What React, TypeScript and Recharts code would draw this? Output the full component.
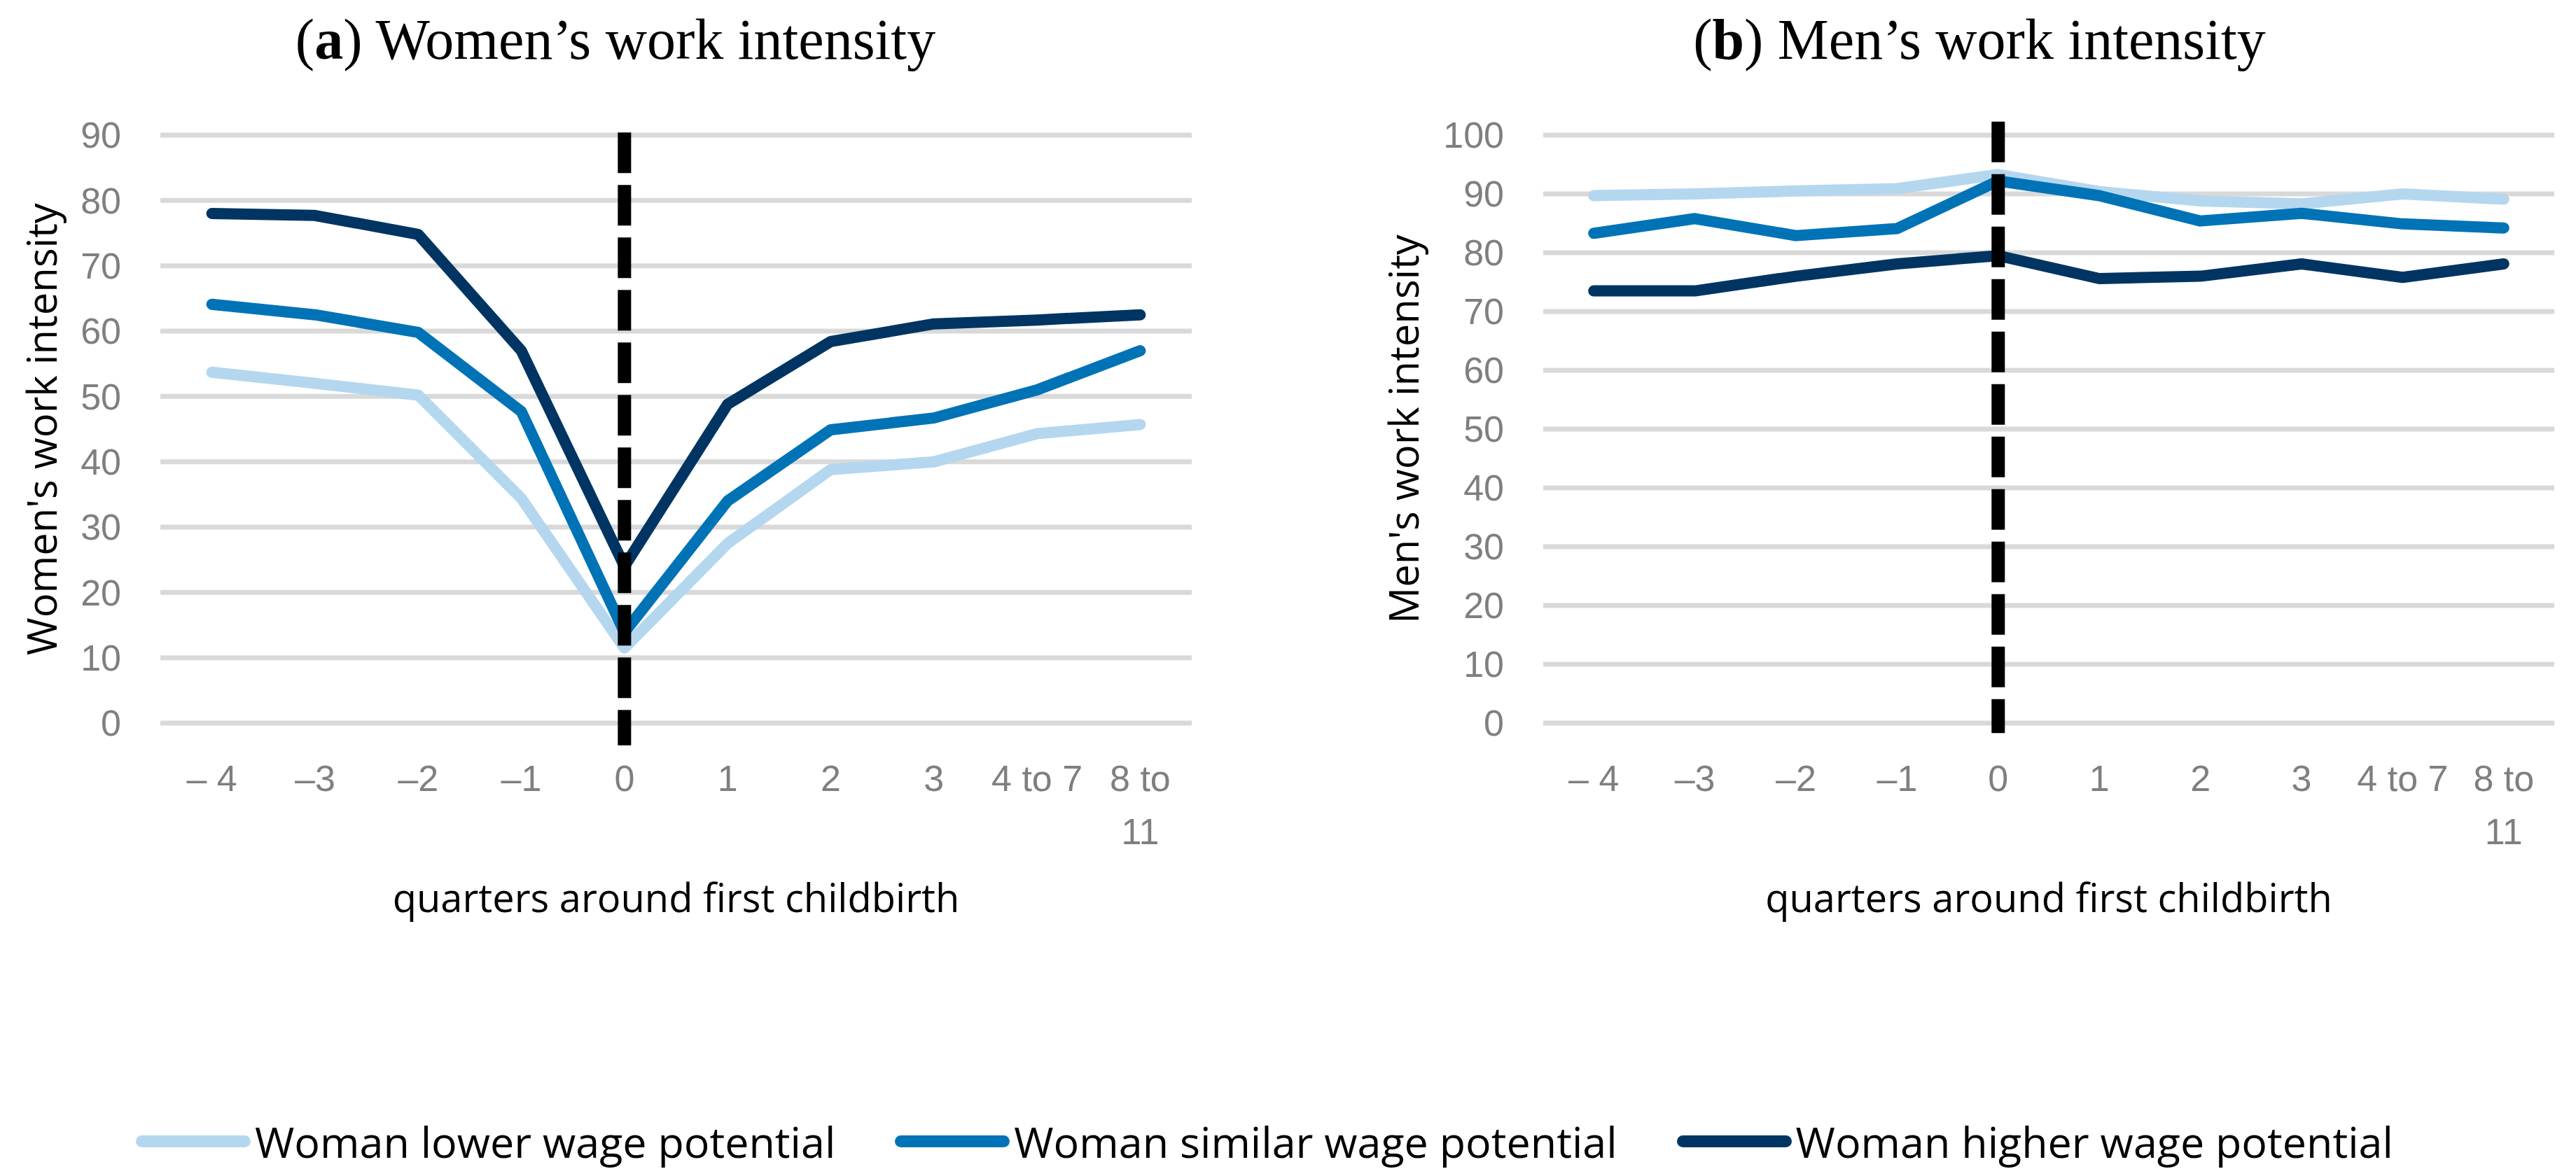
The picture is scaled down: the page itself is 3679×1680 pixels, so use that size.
import React from 'react';
import { LineChart, Line, XAxis, YAxis, CartesianGrid, ReferenceLine } from 'recharts';

// quarters around first childbirth
const quarters = ['– 4', '–3', '–2', '–1', '0', '1', '2', '3', '4 to 7', '8 to 11'];

// (a) women's work intensity
const womenLower = [53.7, 52.0, 50.2, 34.4, 11.5, 27.5, 38.8, 40.0, 44.3, 45.7];
const womenSimilar = [64.1, 62.5, 59.8, 47.7, 13.9, 34.0, 44.9, 46.7, 51.0, 57.0];
const womenHigher = [78.0, 77.7, 74.8, 57.0, 24.0, 48.8, 58.4, 61.1, 61.7, 62.5];

// (b) men's work intensity
const menLower = [89.7, 90.0, 90.5, 90.9, 93.3, 90.4, 88.8, 88.3, 90.0, 89.1];
const menSimilar = [83.3, 85.8, 82.9, 84.1, 92.2, 89.7, 85.4, 86.7, 84.9, 84.2];
const menHigher = [73.5, 73.5, 76.0, 78.1, 79.5, 75.6, 76.0, 78.1, 75.8, 78.1];

const womenTicks = [0, 10, 20, 30, 40, 50, 60, 70, 80, 90];
const menTicks = [0, 10, 20, 30, 40, 50, 60, 70, 80, 90, 100];

const seriesNames = ['Woman lower wage potential', 'Woman similar wage potential', 'Woman higher wage potential'];
const seriesColors = ['#B4D7EF', '#0073B7', '#003563'];

const womenData = quarters.map((q, i) => ({
  quarter: q,
  lower: womenLower[i],
  similar: womenSimilar[i],
  higher: womenHigher[i],
}));

const menData = quarters.map((q, i) => ({
  quarter: q,
  lower: menLower[i],
  similar: menSimilar[i],
  higher: menHigher[i],
}));

const seriesKeys = ['lower', 'similar', 'higher'];

const TICK_COLOR = '#7F7F7F';
const TICK_FONT = '"Liberation Sans", Arial, sans-serif';
const LABEL_FONT = '"Open Sans", "Noto Sans", sans-serif';

function wrapLabel(text: string, maxChars: number) {
  const words = text.split(' ');
  const lines: string[] = [];
  let cur = '';
  words.forEach((w) => {
    const next = cur ? cur + ' ' + w : w;
    if (next.length > maxChars && cur) {
      lines.push(cur);
      cur = w;
    } else {
      cur = next;
    }
  });
  if (cur) lines.push(cur);
  return lines;
}

const QuarterTick = (props: any) => {
  const { x, y, payload } = props;
  const lines = wrapLabel(String(payload.value), 6);
  return (
    <text x={x} y={y} textAnchor="middle" fill={TICK_COLOR} fontFamily={TICK_FONT} fontSize={52}>
      {lines.map((l, i) => (
        <tspan key={i} x={x} dy={i === 0 ? 97 : 76}>
          {l}
        </tspan>
      ))}
    </text>
  );
};

const YTitle = (props: any) => {
  const { viewBox, value, dx } = props;
  const cx = viewBox.x + dx;
  const cy = viewBox.y + viewBox.height / 2;
  return (
    <text
      x={cx}
      y={cy}
      transform={`rotate(-90, ${cx}, ${cy})`}
      textAnchor="middle"
      dominantBaseline="central"
      fontFamily={LABEL_FONT}
      fontSize={58}
      fill="#000"
    >
      {value}
    </text>
  );
};

interface PanelProps {
  data: any[];
  ticks: number[];
  yMax: number;
  yLabel: string;
  width: number;
  yAxisWidth: number;
  rightMargin: number;
  yLabelX: number;
  halfBand: number;
  dashTop: number;
  dashBottom: number;
}

function Panel({ data, ticks, yMax, yLabel, width, yAxisWidth, rightMargin, yLabelX, halfBand, dashTop, dashBottom }: PanelProps) {
  return (
    <LineChart width={width} height={1323} data={data} margin={{ top: 193, right: rightMargin, bottom: 0, left: 0 }}>
      <CartesianGrid vertical={false} stroke="#D9D9D9" strokeWidth={7} />
      <XAxis
        dataKey="quarter"
        interval={0}
        axisLine={false}
        tickLine={false}
        tickSize={0}
        tickMargin={0}
        height={290}
        padding={{ left: halfBand, right: halfBand }}
        tick={<QuarterTick />}
        label={{
          value: 'quarters around first childbirth',
          position: 'insideBottom',
          offset: 20,
          fontFamily: LABEL_FONT,
          fontSize: 56,
          fill: '#000',
        }}
      />
      <YAxis
        width={yAxisWidth}
        domain={[0, yMax]}
        ticks={ticks}
        interval={0}
        axisLine={false}
        tickLine={false}
        tickSize={0}
        tickMargin={56}
        tick={{ fill: TICK_COLOR, fontSize: 52, fontFamily: TICK_FONT }}
        label={<YTitle value={yLabel} dx={yLabelX} />}
      />
      {seriesKeys.map((k, i) => (
        <Line
          key={k}
          dataKey={k}
          name={seriesNames[i]}
          stroke={seriesColors[i]}
          strokeWidth={16}
          strokeLinecap="round"
          strokeLinejoin="round"
          dot={false}
          activeDot={false}
          isAnimationActive={false}
        />
      ))}
      <ReferenceLine
        segment={[
          { x: '0', y: dashTop },
          { x: '0', y: dashBottom },
        ]}
        ifOverflow="visible"
        stroke="#000"
        strokeWidth={19}
        strokeDasharray="58 17"
      />
    </LineChart>
  );
}

const titleStyle: React.CSSProperties = {
  position: 'absolute',
  top: 16,
  width: 2000,
  textAlign: 'center',
  fontFamily: '"Liberation Serif", "Times New Roman", serif',
  fontSize: 82,
  lineHeight: '82px',
  color: '#000',
  whiteSpace: 'nowrap',
};

export default function App() {
  return (
    <div style={{ position: 'absolute', left: 0, top: 0, width: 3679, height: 1680, background: '#fff', overflow: 'hidden' }}>
      <div style={{ ...titleStyle, left: 879 - 1000 }}>
        (<b>a</b>) Women’s work intensity
      </div>
      <div style={{ ...titleStyle, left: 2827 - 1000 }}>
        (<b>b</b>) Men’s work intensity
      </div>

      <div style={{ position: 'absolute', left: 0, top: 0 }}>
        <Panel
          data={womenData}
          ticks={womenTicks}
          yMax={90}
          yLabel="Women's work intensity"
          width={1760}
          yAxisWidth={229}
          rightMargin={58}
          yLabelX={58}
          halfBand={73.6}
          dashTop={90.4}
          dashBottom={-3.4}
        />
      </div>

      <div style={{ position: 'absolute', left: 1840, top: 0 }}>
        <Panel
          data={menData}
          ticks={menTicks}
          yMax={100}
          yLabel="Men's work intensity"
          width={1839}
          yAxisWidth={364}
          rightMargin={31}
          yLabelX={163}
          halfBand={72.2}
          dashTop={102.3}
          dashBottom={-1.7}
        />
      </div>

      <div
        style={{
          position: 'absolute',
          left: 194,
          top: 1589,
          display: 'flex',
          alignItems: 'center',
          gap: 85,
          fontFamily: LABEL_FONT,
          fontSize: 61,
          lineHeight: '83px',
          color: '#000',
          whiteSpace: 'nowrap',
        }}
      >
        {seriesNames.map((n, i) => (
          <div key={n} style={{ display: 'flex', alignItems: 'center' }}>
            <span
              style={{
                display: 'inline-block',
                width: 164,
                height: 17,
                borderRadius: 9,
                background: seriesColors[i],
                marginRight: 6,
              }}
            />
            <span>{n}</span>
          </div>
        ))}
      </div>
    </div>
  );
}
